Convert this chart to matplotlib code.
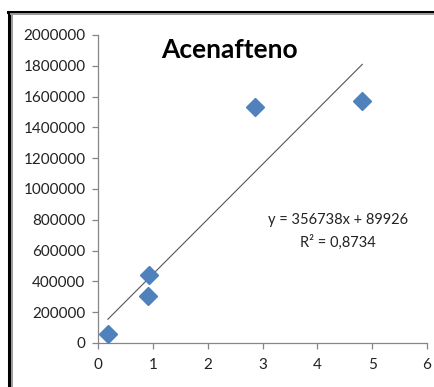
"""Acenafteno calibration scatter with linear trendline (Excel-style look)."""
import matplotlib
matplotlib.use("Agg")
import matplotlib.pyplot as plt
import numpy as np

# data
conc = [0.18, 0.93, 0.92, 2.87, 4.82]
area = [56000, 440000, 307000, 1535000, 1572000]
slope, intercept = 356738, 89926
eq_label = "y = 356738x + 89926"
r2_label = "R² = 0,8734"
title = "Acenafteno"

plt.rcParams["font.family"] = ["Lato", "DejaVu Sans"]
AXIS_GRAY = "#868686"

fig = plt.figure(figsize=(4.35, 3.87), dpi=100)
ax = fig.add_axes([0.2253, 0.1137, 0.7563, 0.7959])

xs = np.array([min(conc), max(conc)])
ax.plot(xs, slope * xs + intercept, color="#555555", lw=0.8, zorder=2)
ax.plot(conc, area, ls="none", marker="D", ms=9, color="#4F81BD", zorder=3)

ax.set_xlim(0, 6)
ax.set_ylim(0, 2000000)
ax.set_xticks(range(0, 7))
ax.set_yticks(np.arange(0, 2000001, 200000))
ax.set_yticklabels([f"{int(v)}" for v in np.arange(0, 2000001, 200000)])
for s in ("top", "right"):
    ax.spines[s].set_visible(False)
for s in ("left", "bottom"):
    ax.spines[s].set_color(AXIS_GRAY)
    ax.spines[s].set_linewidth(0.9)
ax.tick_params(colors=AXIS_GRAY, labelcolor="#222222", length=4, width=0.9,
               labelsize=11)
ax.tick_params(axis="y", pad=5)
ax.tick_params(axis="x", pad=7)

fig.text(0.527, 0.871, title, ha="center", va="center", fontsize=19,
         fontweight="bold", color="black")
ax.text(4.37, 800000, eq_label, ha="center", va="center", fontsize=10.5,
        color="#222222")
ax.text(4.37, 655000, r2_label, ha="center", va="center", fontsize=10.5,
        color="#222222")

# shadowed frame on the left and top edges
fig.add_artist(plt.Line2D([9.5 / 435, 9.5 / 435], [0, 1 - 11.5 / 387],
                          transform=fig.transFigure, color="black", lw=2.2))
fig.add_artist(plt.Line2D([12 / 435, 12 / 435], [0, 1 - 13.5 / 387],
                          transform=fig.transFigure, color="#9a9a9a", lw=1.4))
fig.add_artist(plt.Line2D([8.5 / 435, 1], [1 - 11.5 / 387, 1 - 11.5 / 387],
                          transform=fig.transFigure, color="black", lw=2.2))
fig.add_artist(plt.Line2D([11 / 435, 1], [1 - 14 / 387, 1 - 14 / 387],
                          transform=fig.transFigure, color="#9a9a9a", lw=1.4))

fig.savefig("out.png", dpi=100)
